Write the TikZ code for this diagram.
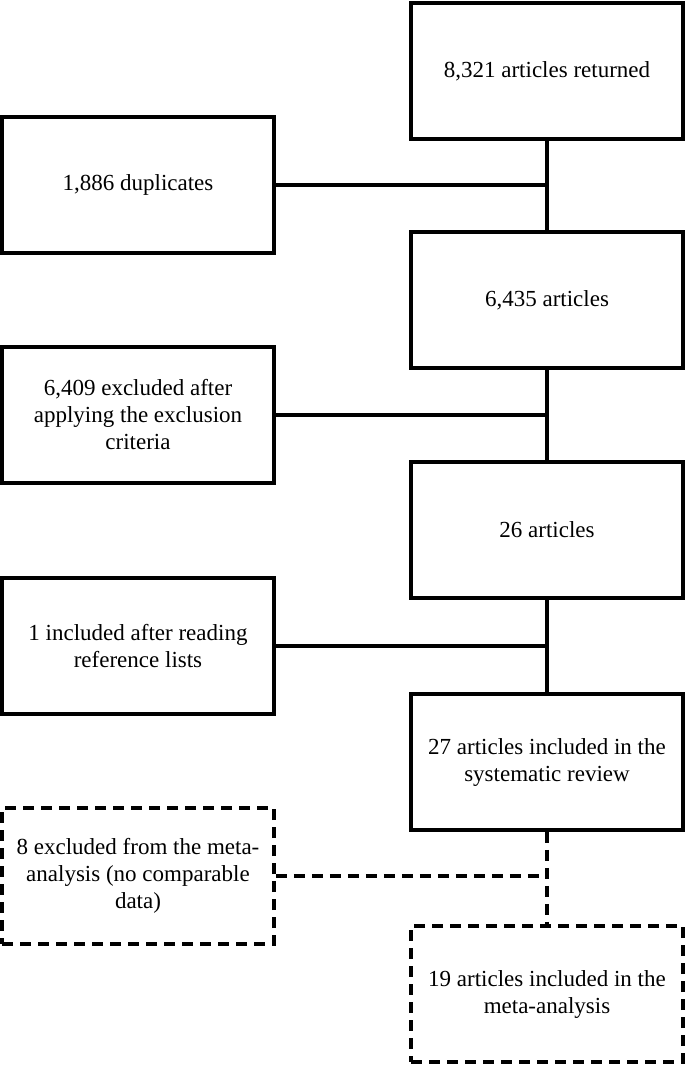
\documentclass[tikz,border=0pt]{standalone}
\usepackage{fontspec}
\setmainfont{Liberation Serif}
\begin{document}
\begin{tikzpicture}
[
x=1pt, y=-1pt,
every node/.style={font=\fontsize{23}{27}\selectfont, align=center},
Stage/.style={rectangle, draw=black, line width=3.6pt, minimum width=272pt, minimum height=136pt, inner sep=0pt},
DashStage/.style={Stage, dash pattern=on 11pt off 7pt},
Link/.style={-, draw=black, line width=3.6pt},
DashLink/.style={Link, dash pattern=on 11pt off 7pt},
]

\useasboundingbox (0,0) rectangle (685,1066);

% main column
\node[Stage] (returned) at (547,71) {8,321 articles returned};
\node[Stage] (screened) at (547,300) {6,435 articles};
\node[Stage] (eligible) at (547,530) {26 articles};
\node[Stage] (review) at (547,762) {27 articles included in the\\systematic review};
\node[DashStage] (meta) at (547,994) {19 articles included in the\\meta-analysis};

% side column
\node[Stage] (dupl) at (138,185) {1,886 duplicates};
\node[Stage] (excl) at (138,415) {6,409 excluded after\\applying the exclusion\\criteria};
\node[Stage] (refs) at (138,646) {1 included after reading\\reference lists};
\node[DashStage] (nodata) at (138,876) {8 excluded from the meta-\\analysis (no comparable\\data)};

\draw[Link] (returned) -- (screened);
\draw[Link] (screened) -- (eligible);
\draw[Link] (eligible) -- (review);
\draw[DashLink] (review) -- (meta);

\draw[Link] (dupl.east) -- (dupl.east -| returned.south);
\draw[Link] (excl.east) -- (excl.east -| screened.south);
\draw[Link] (refs.east) -- (refs.east -| eligible.south);
\draw[DashLink] (nodata.east) -- (nodata.east -| review.south);

\end{tikzpicture}
\end{document}
